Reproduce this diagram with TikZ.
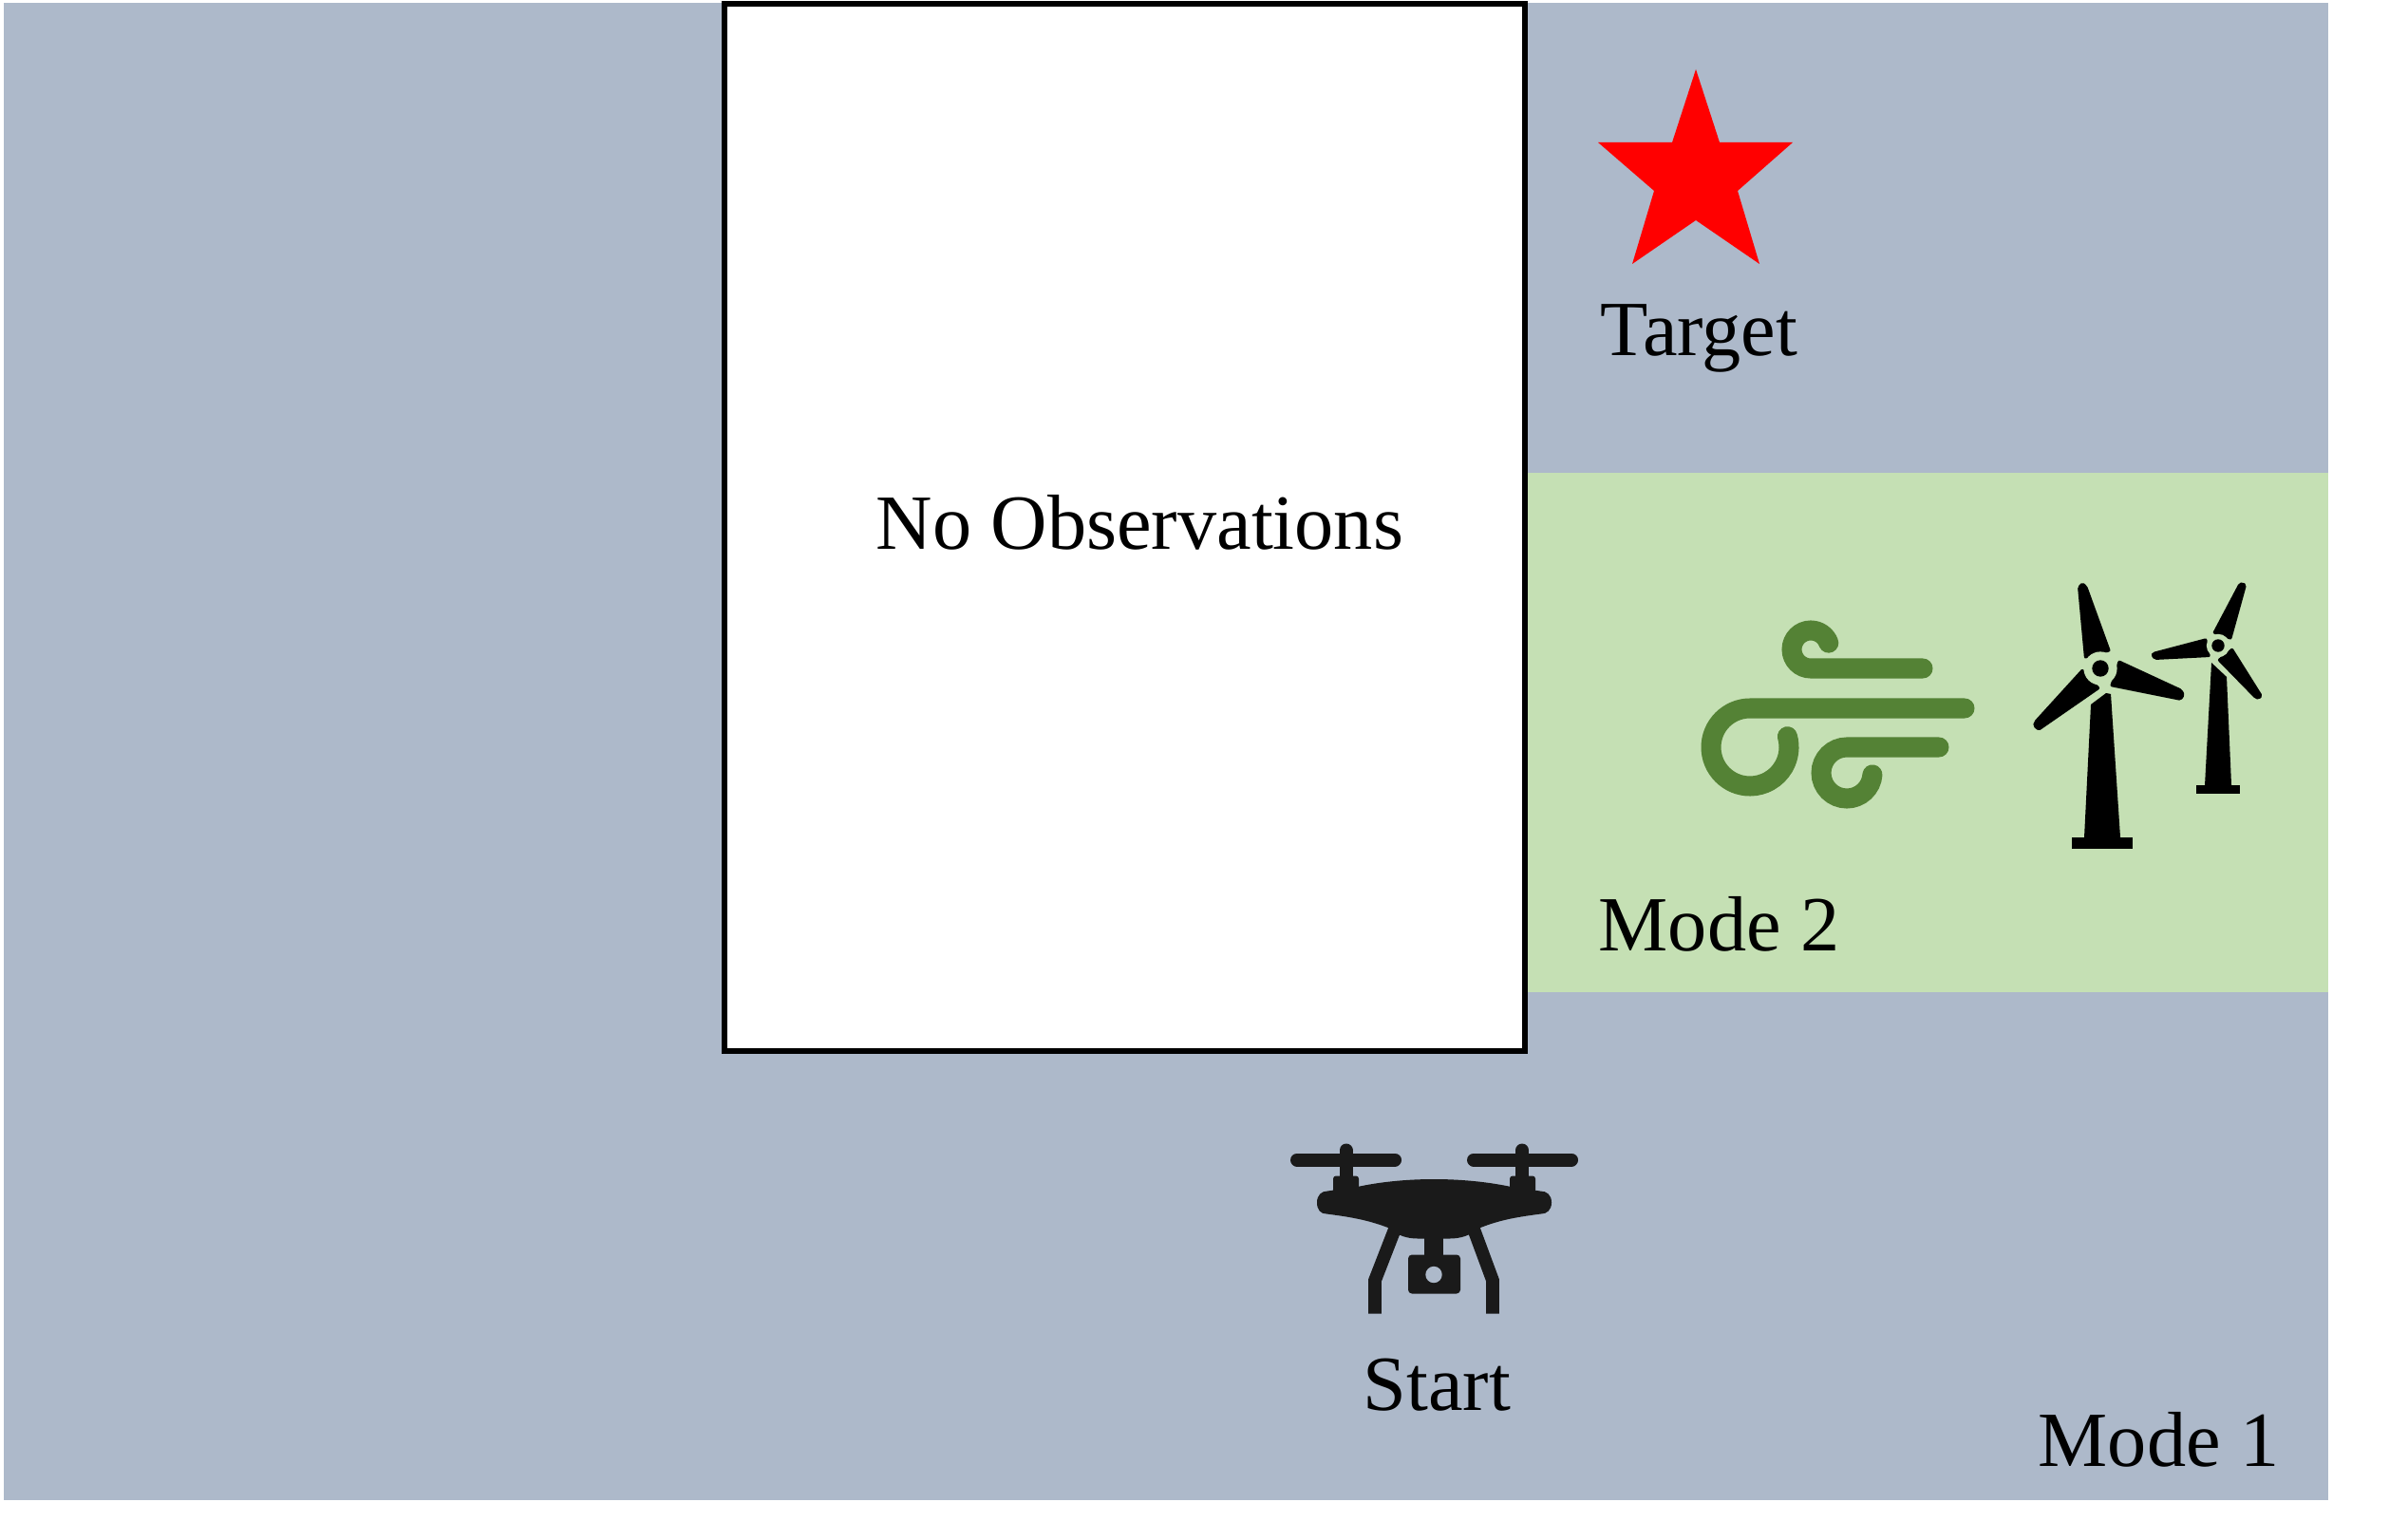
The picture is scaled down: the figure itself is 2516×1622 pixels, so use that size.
\documentclass[tikz,border=0pt]{standalone}
\usepackage{fontspec}
\setmainfont{Liberation Serif}
\definecolor{modeone}{HTML}{ADB9CA}
\definecolor{modetwo}{HTML}{C5E0B4}
\definecolor{windgreen}{HTML}{548235}
\definecolor{dronegray}{HTML}{1A1A1A}
\tikzset{
    label text/.style={inner sep=0pt, anchor=base west, font=\fontsize{23.4}{27}\selectfont},
    wind line/.style={draw=windgreen, line width=0.21cm, line cap=round},
    rotor part/.style={line width=0.14cm, draw=dronegray, line cap=round},
    leg part/.style={line width=0.137cm, draw=dronegray, line join=miter}
}
\begin{document}
\begin{tikzpicture}[x=0.01cm,y=-0.01cm]
    \useasboundingbox (0,0) rectangle (2516,1622);

    % 定义区域的顶点
    \coordinate (A) at (4,3);
    \coordinate (B) at (2452,1580);
    \coordinate (C) at (1606,498);
    \coordinate (D) at (2452,1045);
    \coordinate (E) at (763,4);
    \coordinate (F) at (1606,1107);

    % 绘制区域
    \fill[modeone] (A) rectangle (B);
    \fill[modetwo] (C) rectangle (D);
    \filldraw[fill=white, draw=black, line width=0.055cm] (E) rectangle (F);

    % 文字
    \node[label text] (noobs) at (922,578) {No Observations};
    \node[label text] (target) at (1685,375) {Target};
    \node[label text] (mode2) at (1683,1001) {Mode 2};
    \node[label text] (start) at (1435,1485) {Start};
    \node[label text] (mode1) at (2146,1544) {Mode 1};

    % 目标
    \fill[red] (1786,73) -- (1811,150) -- (1888,150) -- (1830,201) -- (1853,278)
        -- (1786,232) -- (1719,278) -- (1742,201) -- (1683,150) -- (1761,150) -- cycle;

    % 风
    \draw[wind line] (2025,704) -- (1907,704) arc (90:340:20);
    \draw[wind line] (2069,746) -- (1843,746) arc (270:-16:41);
    \draw[wind line] (2042,787) -- (1945,787) arc (270:4:27);

    % 大风机
    \fill[black] (2202,742) -- (2218,730) -- (2223,731) -- (2233,882) -- (2195,882) -- cycle;
    \fill[black] (2182,882) rectangle (2246,894);
    \fill[black, rounded corners=0.02cm] (2188,618) -- (2193,613) -- (2198,617) -- (2223,686) -- (2195,694) -- cycle;
    \fill[black, rounded corners=0.02cm] (2231,695) -- (2298,726) -- (2301,732) -- (2297,738) -- (2222,723) -- cycle;
    \fill[black, rounded corners=0.02cm] (2193,704) -- (2142,760) -- (2141,765) -- (2147,770) -- (2212,725) -- cycle;
    \fill[modetwo] (2212,704) circle (0.176cm);
    \fill[black] (2212,704) circle (0.087cm);

    % 小风机
    \fill[black] (2329,698) -- (2345,713) -- (2350,827) -- (2322,827) -- cycle;
    \fill[black] (2313,827) rectangle (2359,836);
    \fill[black, rounded corners=0.02cm] (2330,667) -- (2358,614) -- (2362,613) -- (2366,616) -- (2350,674) -- cycle;
    \fill[black, rounded corners=0.02cm] (2324,672) -- (2267,687) -- (2265,690) -- (2269,695) -- (2328,692) -- cycle;
    \fill[black, rounded corners=0.02cm] (2351,682) -- (2383,733) -- (2379,737) -- (2375,736) -- (2335,695) -- cycle;
    \fill[modetwo] (2336,680) circle (0.122cm);
    \fill[black] (2336,680) circle (0.067cm);

    % 无人机
    \begin{scope}[shift={(0,1.5)}]
    \draw[rotor part] (1366,1220) -- (1469,1220);
    \draw[rotor part] (1552,1220) -- (1655,1220);
    \draw[rotor part] (1417.5,1210) -- (1417.5,1245);
    \draw[rotor part] (1603,1210) -- (1603,1245);
    \fill[dronegray, rounded corners=0.03cm] (1404,1237) rectangle (1431,1256);
    \fill[dronegray, rounded corners=0.03cm] (1590,1237) rectangle (1617,1256);
    \fill[dronegray] (1387,1265) .. controls (1387,1257) and (1392,1253) .. (1398,1253)
        -- (1432,1248) .. controls (1480,1238) and (1540,1238) .. (1589,1248)
        -- (1622,1253) .. controls (1629,1253) and (1634,1257) .. (1634,1265)
        .. controls (1634,1273) and (1629,1277) .. (1623,1277)
        .. controls (1600,1280) and (1580,1283) .. (1558,1292)
        .. controls (1548,1300) and (1538,1303) .. (1527,1303) -- (1493,1303)
        .. controls (1482,1303) and (1472,1300) .. (1463,1292)
        .. controls (1440,1283) and (1420,1280) .. (1397,1277)
        .. controls (1391,1277) and (1387,1273) .. (1387,1265) -- cycle;
    \draw[leg part] (1469,1293) -- (1448,1347) -- (1448,1382);
    \draw[leg part] (1552,1293) -- (1572,1347) -- (1572,1382);
    \fill[dronegray] (1500,1300) rectangle (1520,1322);
    \fill[dronegray, rounded corners=0.04cm] (1483,1320) rectangle (1538,1361);
    \fill[modeone] (1510,1341) circle (0.087cm);
    \end{scope}
\end{tikzpicture}
\end{document}
